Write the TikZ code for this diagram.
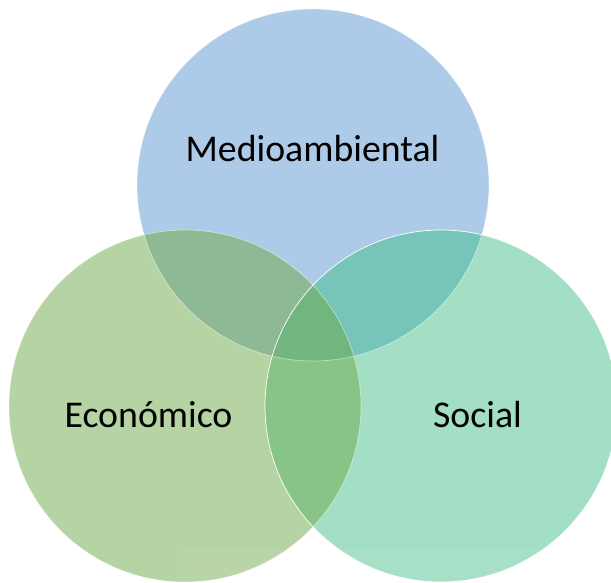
\documentclass[tikz,border=0pt]{standalone}
\usepackage{fontspec}
\setmainfont{Carlito}
\begin{document}
\begin{tikzpicture}[x=1pt,y=-1pt,
  lbl/.style={anchor=base,inner sep=0pt,font=\fontsize{37.8}{42}\selectfont,text=black},
  rim/.style={draw=white,line width=0.7pt}]
\definecolor{cTop}{HTML}{ADCBE8}
\definecolor{cLeft}{HTML}{B5D3A3}
\definecolor{cRight}{HTML}{A3DFC4}
\definecolor{cTL}{HTML}{8DBA94}
\definecolor{cTR}{HTML}{77C5B9}
\definecolor{cLR}{HTML}{88C486}
\definecolor{cAll}{HTML}{71B67E}
\useasboundingbox (0,0) rectangle (611,583);
\def\R{176}
\coordinate (T) at (313,185);
\coordinate (L) at (185,406);
\coordinate (Rc) at (441,406);
% base circles
\fill[cTop] (T) circle (\R);
\fill[cLeft] (L) circle (\R);
\fill[cRight] (Rc) circle (\R);
% pairwise overlaps
\begin{scope}\clip (T) circle (\R); \fill[cTL] (L) circle (\R); \end{scope}
\begin{scope}\clip (T) circle (\R); \fill[cTR] (Rc) circle (\R); \end{scope}
\begin{scope}\clip (L) circle (\R); \fill[cLR] (Rc) circle (\R); \end{scope}
\begin{scope}\clip (T) circle (\R); \clip (L) circle (\R); \fill[cAll] (Rc) circle (\R); \end{scope}
% outlines
\draw[rim,draw opacity=0.5] (T) circle (\R);
\draw[rim,draw opacity=0.5] (L) circle (\R);
\draw[rim] (Rc) circle (\R);
% faint band at bottom
\fill[white,opacity=0.06] (178,548) rectangle (611,583);
% labels
\node[lbl] (med) at (312.5,161.5) {Medioambiental};
\node[lbl] (eco) at (148.5,427) {Económico};
\node[lbl] (soc) at (477.5,427) {Social};
\end{tikzpicture}
\end{document}
